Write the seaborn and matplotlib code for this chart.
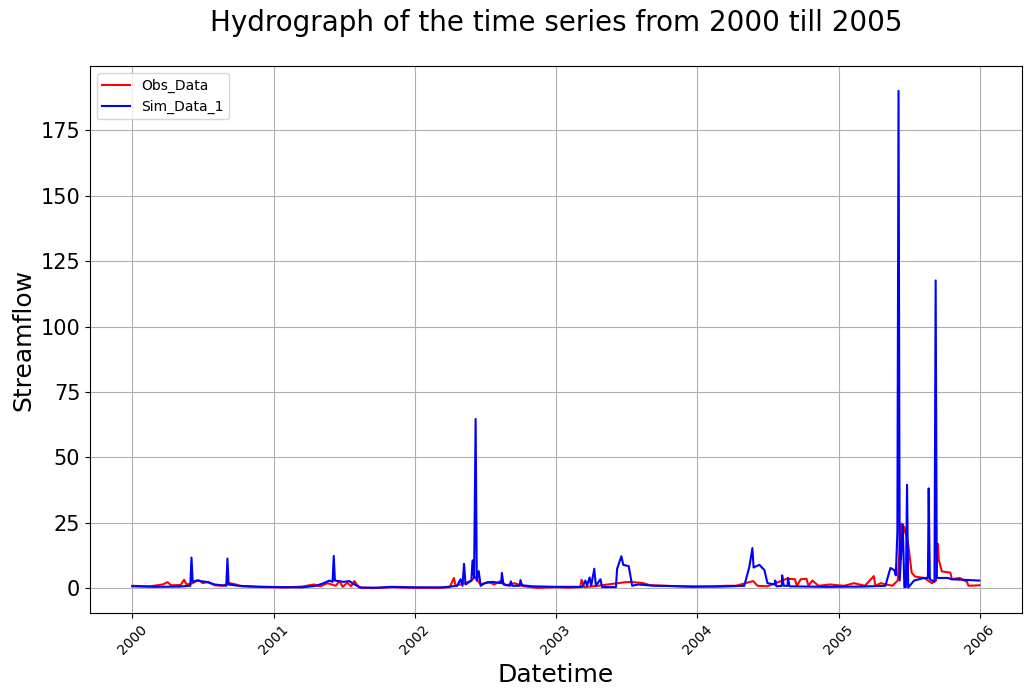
import numpy as np
import pandas as pd
import seaborn as sns
import matplotlib
matplotlib.use("Agg")
import matplotlib.pyplot as plt
import matplotlib.dates as mdates

obs_dates = [
    "2000-01-01", "2000-02-15", "2000-03-20", "2000-04-01", "2000-04-10", "2000-05-05",
    "2000-05-14", "2000-05-20", "2000-06-05", "2000-06-20", "2000-07-01", "2000-07-15",
    "2000-08-01", "2000-08-20", "2000-09-10", "2000-09-25", "2000-10-10", "2000-12-01",
    "2001-02-01", "2001-03-15", "2001-04-15", "2001-05-01", "2001-05-20", "2001-06-10",
    "2001-06-20", "2001-06-28", "2001-07-10", "2001-07-20", "2001-07-28", "2001-08-10",
    "2001-09-15", "2001-11-01", "2001-12-15", "2002-03-01", "2002-04-01", "2002-04-12",
    "2002-04-16", "2002-05-10", "2002-05-28", "2002-06-05", "2002-06-12", "2002-06-20",
    "2002-07-10", "2002-07-25", "2002-08-10", "2002-08-25", "2002-09-15", "2002-10-10",
    "2002-11-15", "2003-01-01", "2003-02-01", "2003-03-05", "2003-03-08", "2003-03-15",
    "2003-04-20", "2003-05-15", "2003-06-10", "2003-07-01", "2003-07-20", "2003-08-15",
    "2003-09-01", "2003-10-15", "2003-12-20", "2004-02-15", "2004-03-15", "2004-04-10",
    "2004-05-25", "2004-06-05", "2004-07-01", "2004-08-20", "2004-09-10", "2004-09-15",
    "2004-09-25", "2004-10-10", "2004-10-15", "2004-10-25", "2004-11-10", "2004-12-10",
    "2005-01-15", "2005-02-10", "2005-03-10", "2005-04-02", "2005-04-06", "2005-04-20",
    "2005-05-20", "2005-06-03", "2005-06-12", "2005-06-16", "2005-06-20", "2005-06-30",
    "2005-07-09", "2005-07-18", "2005-08-10", "2005-08-30", "2005-09-10", "2005-09-15",
    "2005-09-17", "2005-09-25", "2005-10-17", "2005-10-21", "2005-11-10", "2005-11-29",
    "2005-12-03", "2005-12-31",
]
obs_flow = [
    1.0, 0.8, 1.5, 2.4, 1.2, 1.3,
    3.3, 1.5, 2.0, 3.2, 2.0, 2.5,
    1.2, 1.0, 2.0, 1.5, 0.8, 0.5,
    0.4, 0.7, 1.5, 0.8, 2.0, 1.0,
    2.8, 0.6, 2.2, 0.8, 2.8, 0.3,
    0.1, 0.5, 0.3, 0.2, 0.5, 4.0,
    1.0, 2.0, 3.0, 4.5, 3.0, 1.5,
    2.5, 1.5, 2.8, 1.2, 2.0, 0.8,
    0.2, 0.5, 0.3, 0.5, 3.3, 0.5,
    1.0, 1.5, 2.0, 2.4, 2.4, 2.0,
    1.2, 1.0, 0.5, 0.8, 1.0, 1.0,
    2.8, 1.0, 0.8, 3.7, 3.5, 1.0,
    3.5, 3.7, 1.0, 3.0, 1.0, 1.5,
    1.0, 2.0, 1.0, 4.7, 1.0, 2.0,
    1.0, 3.0, 24.8, 20.0, 23.5, 16.8,
    6.0, 4.5, 4.0, 2.0, 3.0, 17.0,
    11.0, 6.5, 6.0, 3.5, 4.0, 2.5,
    1.0, 1.2,
]

# simulated streamflow
sim_dates = [
    "2000-01-01", "2000-03-01", "2000-05-01", "2000-05-30", "2000-06-02", "2000-06-05",
    "2000-06-15", "2000-07-10", "2000-08-01", "2000-08-31", "2000-09-03", "2000-09-06",
    "2000-10-01", "2000-11-15", "2001-01-15", "2001-03-15", "2001-04-20", "2001-05-10",
    "2001-05-25", "2001-06-02", "2001-06-05", "2001-06-08", "2001-06-30", "2001-07-15",
    "2001-08-01", "2001-08-15", "2001-10-01", "2001-11-01", "2002-01-01", "2002-03-15",
    "2002-04-20", "2002-04-29", "2002-05-04", "2002-05-08", "2002-05-12", "2002-05-27",
    "2002-05-30", "2002-06-03", "2002-06-07", "2002-06-10", "2002-06-15", "2002-06-20",
    "2002-07-01", "2002-07-20", "2002-08-12", "2002-08-14", "2002-08-18", "2002-09-04",
    "2002-09-06", "2002-09-10", "2002-09-29", "2002-10-01", "2002-10-05", "2002-11-01",
    "2003-01-01", "2003-03-10", "2003-03-18", "2003-03-22", "2003-03-29", "2003-04-02",
    "2003-04-10", "2003-04-14", "2003-04-26", "2003-04-30", "2003-06-05", "2003-06-08",
    "2003-06-19", "2003-06-24", "2003-07-08", "2003-07-17", "2003-08-01", "2003-09-15",
    "2003-12-01", "2004-03-01", "2004-05-02", "2004-05-15", "2004-05-23", "2004-05-26",
    "2004-06-10", "2004-06-23", "2004-07-01", "2004-07-20", "2004-07-21", "2004-07-24",
    "2004-08-07", "2004-08-08", "2004-08-12", "2004-08-22", "2004-08-23", "2004-08-27",
    "2004-12-01", "2005-03-01", "2005-05-02", "2005-05-15", "2005-05-25", "2005-05-29",
    "2005-06-02", "2005-06-05", "2005-06-08", "2005-06-16", "2005-06-20", "2005-06-24",
    "2005-06-27", "2005-06-30", "2005-07-15", "2005-08-10", "2005-08-20", "2005-08-22",
    "2005-08-25", "2005-09-06", "2005-09-09", "2005-09-12", "2005-10-10", "2005-10-20",
    "2005-12-31",
]
sim_flow = [
    0.8, 0.6, 0.7, 1.0, 11.8, 2.5,
    3.0, 2.5, 1.5, 1.0, 11.4, 1.5,
    1.0, 0.7, 0.5, 0.4, 1.0, 2.0,
    3.0, 2.5, 12.4, 3.0, 2.5, 2.8,
    1.2, 0.3, 0.3, 0.6, 0.4, 0.4,
    1.0, 3.5, 1.0, 9.4, 1.5, 3.0,
    10.7, 4.0, 64.7, 3.0, 6.6, 1.0,
    2.0, 2.5, 2.0, 5.9, 1.5, 1.0,
    2.7, 1.0, 1.0, 3.2, 1.2, 0.8,
    0.6, 0.6, 3.0, 1.0, 4.2, 1.0,
    7.5, 1.0, 3.5, 0.5, 0.5, 7.5,
    12.3, 9.0, 8.5, 1.0, 1.5, 1.0,
    0.8, 0.7, 1.0, 8.2, 15.4, 8.0,
    9.0, 7.0, 2.0, 1.5, 3.0, 0.8,
    1.0, 5.0, 1.0, 1.0, 4.0, 0.8,
    0.6, 0.7, 1.0, 7.8, 7.0, 5.0,
    21.5, 190.0, 3.0, 24.5, 0.5, 0.5,
    39.6, 0.3, 3.0, 4.0, 4.0, 38.2,
    3.5, 2.5, 117.6, 4.0, 4.0, 3.5,
    3.0,
]

obs = pd.DataFrame({"Datetime": pd.to_datetime(obs_dates), "Streamflow": obs_flow})
sim = pd.DataFrame({"Datetime": pd.to_datetime(sim_dates), "Streamflow": sim_flow})

fig = plt.figure(figsize=(10.32, 6.97), dpi=100)
ax = fig.add_axes([0.0872, 0.1205, 0.9028, 0.7848])

sns.lineplot(data=obs, x="Datetime", y="Streamflow", color="red",
             linewidth=1.5, label="Obs_Data", ax=ax)
sns.lineplot(data=sim, x="Datetime", y="Streamflow", color="blue",
             linewidth=1.5, label="Sim_Data_1", ax=ax)

ax.xaxis.set_major_locator(mdates.YearLocator())
ax.xaxis.set_major_formatter(mdates.DateFormatter("%Y"))
ax.tick_params(axis="x", labelrotation=45, labelsize=10)
ax.tick_params(axis="y", labelsize=15)
ax.set_xlabel("Datetime", fontsize=18)
ax.set_ylabel("Streamflow", fontsize=18)
ax.grid(True)
ax.legend(loc="upper left", fontsize=10)
ax.set_title("Hydrograph of the time series from 2000 till 2005", fontsize=20, pad=25)

fig.savefig("out.png", dpi=100)
